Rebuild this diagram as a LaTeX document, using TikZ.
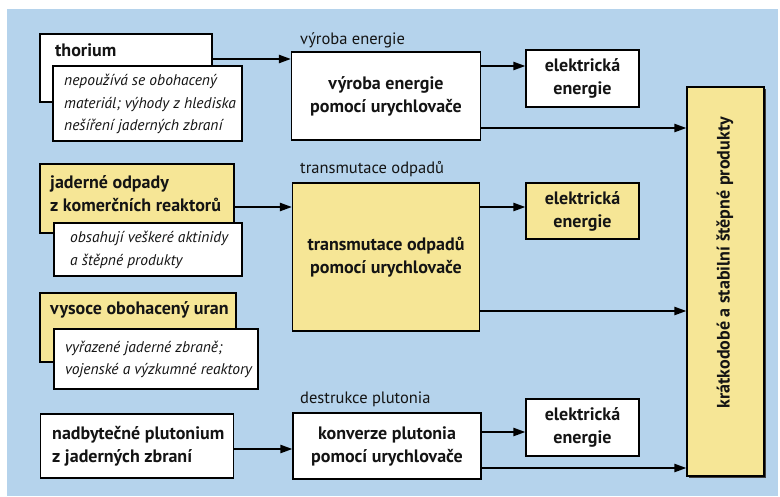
\documentclass[tikz,border=0pt]{standalone}
\usepackage{fontspec}
\setmainfont{PT Sans}
\usetikzlibrary{arrows.meta,calc}
\definecolor{bgblue}{RGB}{181,211,236}
\definecolor{boxyel}{RGB}{246,230,150}
\definecolor{txt}{RGB}{20,20,20}
\begin{document}
\begin{tikzpicture}[x=1pt,y=-1pt,
  box/.style={draw=black,line width=1.1pt,inner sep=0pt,anchor=center},
  wbox/.style={box,fill=white},
  ybox/.style={box,fill=boxyel},
  btxt/.style={font=\fontsize{18}{23}\selectfont\bfseries,text=txt,inner sep=0pt},
  ntxt/.style={font=\fontsize{15.5}{22.5}\selectfont\itshape,text=txt,inner sep=0pt,align=left},
  ltxt/.style={font=\fontsize{16.5}{18}\selectfont,text=txt,inner sep=0pt,anchor=base west},
  arr/.style={line width=2.2pt,-{Triangle[length=12pt,width=8pt]}}
]
\useasboundingbox (0,0) rectangle (780,496);
\fill[bgblue] (7,9) rectangle (778,496);

% source boxes
\node[wbox,minimum width=172pt,minimum height=68pt] (th) at (126,68) {};
\node[btxt,anchor=west] (thT) at (55,50) {thorium};
\node[wbox,minimum width=189pt,minimum height=75pt] (thN) at (147.5,103.5) {};
\node[ntxt,anchor=west] (thNT) at (64,104) {nepoužívá se obohacený\\materiál; výhody z hlediska\\nešíření jaderných zbraní};

\node[ybox,minimum width=194pt,minimum height=69pt] (jo) at (137,198.5) {};
\node[btxt,anchor=west,align=left] (joT) at (50,193.5) {jaderné odpady\\z komerčních reaktorů};
\node[wbox,minimum width=188pt,minimum height=53pt] (joN) at (148,249.5) {};
\node[ntxt,anchor=west] (joNT) at (70,250) {obsahují veškeré aktinidy\\a štěpné produkty};

\node[ybox,minimum width=196pt,minimum height=69pt] (ur) at (138,327.5) {};
\node[btxt,anchor=west] (urT) at (50,310) {vysoce obohacený uran};
\node[wbox,minimum width=204pt,minimum height=60pt] (urN) at (156,359) {};
\node[ntxt,anchor=west] (urNT) at (65,359.5) {vyřazené jaderné zbraně;\\vojenské a výzkumné reaktory};

\node[wbox,minimum width=193pt,minimum height=64pt] (pu) at (137,446) {};
\node[btxt,anchor=west,align=left] (puT) at (52,446) {nadbytečné plutonium\\z jaderných zbraní};

% process boxes
\node[ltxt] (l1) at (300,44) {výroba energie};
\node[wbox,minimum width=189pt,minimum height=88pt,btxt,align=center] (p1) at (386,96) {výroba energie\\pomocí urychlovače};
\node[ltxt] (l2) at (300,173) {transmutace odpadů};
\node[ybox,minimum width=187pt,minimum height=148pt,btxt,align=center] (p2) at (386,257) {transmutace odpadů\\pomocí urychlovače};
\node[ltxt] (l3) at (300,403) {destrukce plutonia};
\node[wbox,minimum width=188pt,minimum height=66pt,btxt,align=center] (p3) at (387,446) {konverze plutonia\\pomocí urychlovače};

% electric boxes
\node[wbox,minimum width=113pt,minimum height=57pt,btxt,align=center] (e1) at (582.5,78.5) {elektrická\\energie};
\node[ybox,minimum width=113pt,minimum height=56pt,btxt,align=center] (e2) at (582.5,211) {elektrická\\energie};
\node[wbox,minimum width=113pt,minimum height=57pt,btxt,align=center] (e3) at (582.5,427.5) {elektrická\\energie};

% tall box
\fill[black!75] (689,89) rectangle (766,478);
\node[ybox,minimum width=77pt,minimum height=389pt] (tb) at (725.5,281.5) {};
\node[btxt,rotate=90] (tbT) at (725,263) {krátkodobé a stabilní štěpné produkty};

% connectors
\coordinate (a1) at ([yshift=9pt]th.east);
\draw[arr] (a1) -- (a1 -| p1.west);
\coordinate (a2) at ([yshift=30pt]p1.east);
\draw[arr] (a2) -- (a2 -| e1.west);
\coordinate (a3) at ([yshift=-32pt]p1.east);
\draw[arr] (a3) -- (a3 -| tb.west);

\coordinate (b1) at ([yshift=-8.5pt]jo.east);
\draw[arr] (b1) -- (b1 -| p2.west);
\coordinate (b2) at (p2.east |- e2.west);
\draw[arr] ([yshift=4pt]b2) -- ([yshift=4pt]e2.west);
\coordinate (b3) at ([yshift=-54pt]p2.east);
\draw[arr] (b3) -- (b3 -| tb.west);

\coordinate (c1) at ([yshift=-3pt]pu.east);
\draw[arr] (c1) -- (c1 -| p3.west);
\coordinate (c2) at (p3.east |- e3.west);
\draw[arr] ([yshift=-4.5pt]c2) -- ([yshift=-4.5pt]e3.west);
\coordinate (c3) at ([yshift=-22pt]p3.east);
\draw[arr] (c3) -- (c3 -| tb.west);
\end{tikzpicture}
\end{document}
